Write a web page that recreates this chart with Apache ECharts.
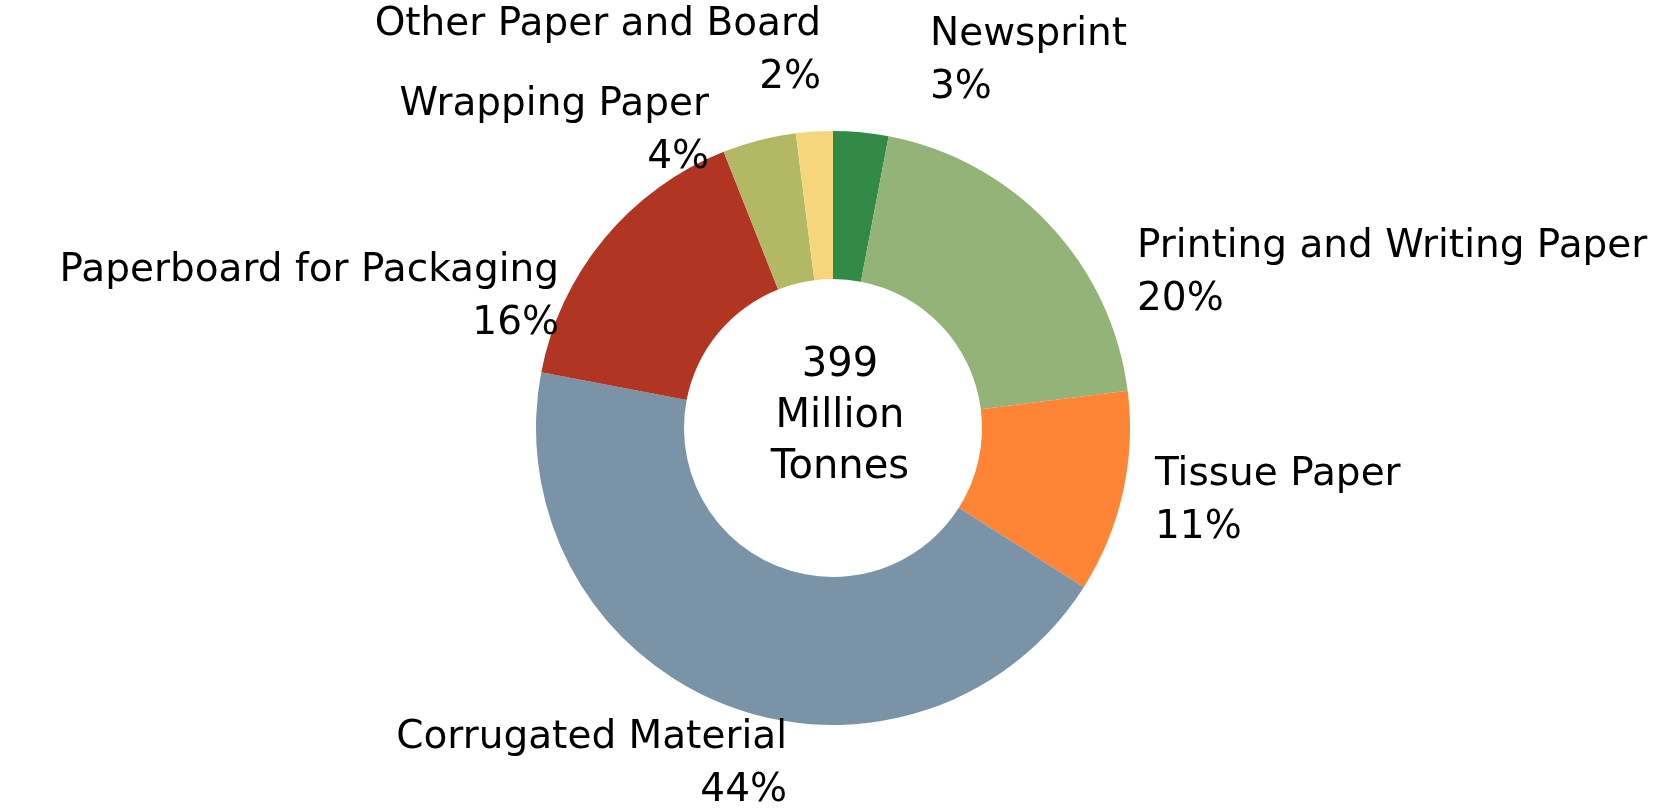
<!DOCTYPE html>
<html>
<head>
<meta charset="utf-8">
<script src="https://cdn.jsdelivr.net/npm/echarts@6/dist/echarts.min.js"></script>
<style>
  html, body { margin: 0; padding: 0; background: #fff; }
  #chart { width: 1673px; height: 808px; }
</style>
</head>
<body>
<div id="chart"></div>
<script>
// data
const categories = ['Newsprint', 'Printing and Writing Paper', 'Tissue Paper', 'Corrugated Material',
  'Paperboard for Packaging', 'Wrapping Paper', 'Other Paper and Board'];
const shares = [3, 20, 11, 44, 16, 4, 2];
const colors = ['#338a46', '#94b379', '#fe8436', '#7a93a7', '#b03522', '#b3b865', '#f5d67d'];
const centerText = '399\nMillion\nTonnes';

// where each label block sits (x = text edge, y = middle of the two lines)
const labelPlace = [
  { x: 930, y: 61, align: 'left' },
  { x: 1137, y: 273, align: 'left' },
  { x: 1155, y: 501, align: 'left' },
  { x: 787, y: 764, align: 'right' },
  { x: 559, y: 297, align: 'right' },
  { x: 709, y: 131, align: 'right' },
  { x: 821, y: 51, align: 'right' }
];

const font = '"DejaVu Sans", sans-serif';
const chart = echarts.init(document.getElementById('chart'));

chart.setOption({
  animation: false,
  color: colors,
  graphic: [{
    type: 'text',
    x: 840,
    y: 417,
    style: {
      text: centerText,
      align: 'center',
      verticalAlign: 'middle',
      fontFamily: font,
      fontSize: 40,
      lineHeight: 51,
      fill: '#000'
    }
  }],
  series: [{
    type: 'pie',
    center: [833, 428],
    radius: [149, 297],
    startAngle: 90,
    clockwise: true,
    data: categories.map((name, i) => ({ name: name, value: shares[i] })),
    label: {
      show: true,
      position: 'outside',
      overflow: 'none',
      color: '#000',
      fontFamily: font,
      fontSize: 39,
      lineHeight: 53,
      formatter: p => p.name + '\n' + Math.round(p.percent) + '%'
    },
    labelLine: { show: false },
    labelLayout: p => {
      const l = labelPlace[p.dataIndex];
      return { x: l.x, y: l.y, align: l.align, verticalAlign: 'middle' };
    },
    emphasis: { disabled: true }
  }]
});
</script>
</body>
</html>
